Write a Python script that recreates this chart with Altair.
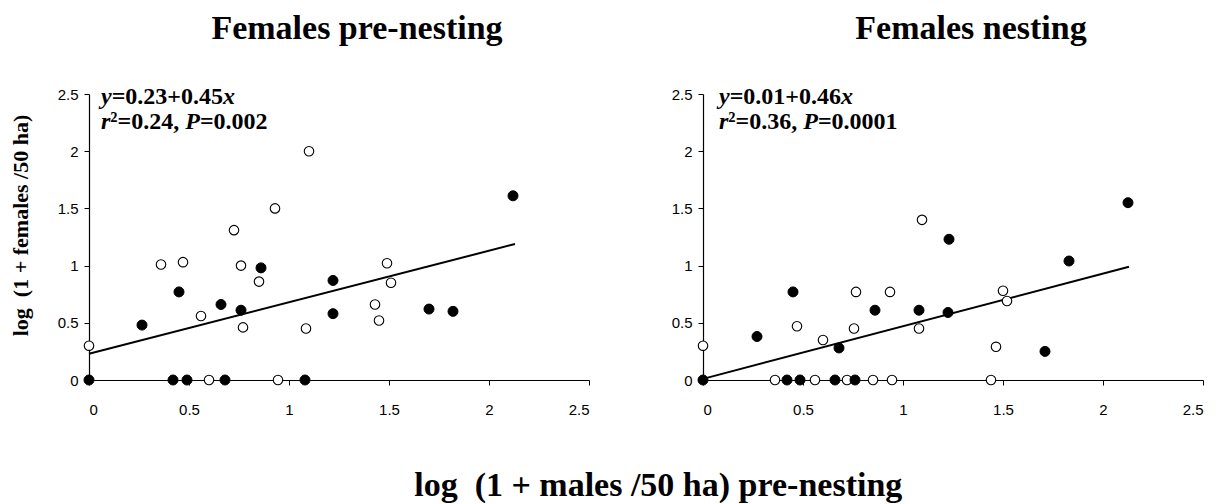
import altair as alt
import pandas as pd

# ---------------- data ----------------
# Panel 1: Females pre-nesting
pre_open_x = [0.00, 0.36, 0.47, 0.56, 0.60, 0.725, 0.76, 0.77, 0.85, 0.93, 0.945, 1.085, 1.10, 1.43, 1.45, 1.49, 1.51]
pre_open_y = [0.30, 1.01, 1.03, 0.56, 0.00, 1.31, 1.00, 0.46, 0.86, 1.50, 0.00, 0.45, 2.00, 0.66, 0.52, 1.02, 0.85]
pre_fill_x = [0.00, 0.265, 0.42, 0.45, 0.49, 0.66, 0.68, 0.76, 0.86, 1.08, 1.22, 1.22, 1.70, 1.82, 2.12]
pre_fill_y = [0.00, 0.48, 0.00, 0.77, 0.00, 0.66, 0.00, 0.61, 0.98, 0.00, 0.87, 0.58, 0.62, 0.60, 1.61]

# Panel 2: Females nesting
nest_open_x = [0.00, 0.36, 0.47, 0.56, 0.60, 0.72, 0.755, 0.765, 0.85, 0.935, 0.945, 1.08, 1.095, 1.44, 1.465, 1.50, 1.52]
nest_open_y = [0.30, 0.00, 0.47, 0.00, 0.35, 0.00, 0.45, 0.77, 0.00, 0.77, 0.00, 0.45, 1.40, 0.00, 0.29, 0.78, 0.69]
nest_fill_x = [0.00, 0.27, 0.42, 0.45, 0.485, 0.66, 0.68, 0.76, 0.86, 1.08, 1.225, 1.23, 1.71, 1.83, 2.125]
nest_fill_y = [0.00, 0.38, 0.00, 0.77, 0.00, 0.00, 0.28, 0.00, 0.61, 0.61, 0.59, 1.23, 0.25, 1.04, 1.55]

panel_titles = ["Females pre-nesting", "Females nesting"]
intercepts = [0.23, 0.01]
slopes = [0.45, 0.46]
fit_x_range = [0.0, 2.13]
eq_numbers = [["0.23", "0.45"], ["0.01", "0.46"]]
stat_numbers = [["0.24", "0.002"], ["0.36", "0.0001"]]

y_title = "log\u00a0 (1 + females /50 ha)"
x_title = "log\u00a0 (1 + males /50 ha) pre-nesting"
tick_values = [0, 0.5, 1, 1.5, 2, 2.5]

SERIF = "Liberation Serif"
SANS = "Liberation Sans"
W, H = 500, 286
ANN_FS = 24

# Times-metric advance widths (em) used to place mixed-style text pieces
BOLD_W = {"=": 0.57, "+": 0.57, ".": 0.25, ",": 0.25, " ": 0.25, "\u00b2": 0.3}
BOLD_W.update({d: 0.5 for d in "0123456789"})
BI_W = {"y": 0.444, "x": 0.5, "r": 0.389, "P": 0.611}


def width(txt, italic):
    table = BI_W if italic else BOLD_W
    return sum(table.get(c, 0.5) for c in txt)


def annotation_layers(i, x0):
    a, b = eq_numbers[i]
    r2, p = stat_numbers[i]
    lines = [
        [("y", True), ("=" + a + "+" + b, False), ("x", True)],
        [("r", True), ("\u00b2=" + r2 + ",", False), (" ", None), ("P", True), ("=" + p, False)],
    ]
    baselines = [10, 35]
    layers = []
    for li, pieces in enumerate(lines):
        off = 0.0
        for txt, ital in pieces:
            if ital is None:
                off += width(txt, False)
                continue
            layers.append(
                alt.Chart(pd.DataFrame({"t": [txt]})).mark_text(
                    font=SERIF, fontSize=ANN_FS, fontWeight="bold",
                    fontStyle="italic" if ital else "normal",
                    align="left", baseline="alphabetic", color="black",
                ).encode(
                    x=alt.value(x0 + off * ANN_FS),
                    y=alt.value(baselines[li]),
                    text="t:N",
                )
            )
            off += width(txt, ital)
    return layers


def panel(i, ox, oy, fx, fy, show_ytitle, ann_x0):
    xs = alt.Scale(domain=[0, 2.5], nice=False, zero=False)
    ys = alt.Scale(domain=[0, 2.5], nice=False, zero=False)
    x_axis = alt.Axis(values=tick_values, format="~g", title=None)
    if show_ytitle:
        y_axis = alt.Axis(values=tick_values, format="~g", title=y_title,
                          titleFont=SERIF, titleFontSize=22, titleFontWeight="bold",
                          titleColor="black", titleAngle=-90, titleAlign="center",
                          titleBaseline="alphabetic", titleX=-62, titleY=131)
    else:
        y_axis = alt.Axis(values=tick_values, format="~g", title=None)

    a, b = intercepts[i], slopes[i]
    fit = pd.DataFrame({"x": fit_x_range, "y": [a + b * v for v in fit_x_range]})
    opn = pd.DataFrame({"x": ox, "y": oy})
    fil = pd.DataFrame({"x": fx, "y": fy})

    line = alt.Chart(fit).mark_line(color="black", strokeWidth=2).encode(
        x=alt.X("x:Q", scale=xs, axis=x_axis),
        y=alt.Y("y:Q", scale=ys, axis=y_axis),
    )
    open_pts = alt.Chart(opn).mark_circle(
        size=90, fill="white", stroke="black", strokeWidth=1.1, opacity=1
    ).encode(x=alt.X("x:Q", scale=xs), y=alt.Y("y:Q", scale=ys))
    fill_pts = alt.Chart(fil).mark_circle(
        size=100, fill="black", stroke="black", strokeWidth=1, opacity=1
    ).encode(x=alt.X("x:Q", scale=xs), y=alt.Y("y:Q", scale=ys))

    layers = [line, open_pts, fill_pts] + annotation_layers(i, ann_x0)
    return alt.layer(*layers).properties(
        width=W, height=H,
        title=alt.TitleParams(panel_titles[i], font=SERIF, fontSize=34, fontWeight="bold",
                              color="black", anchor="middle", frame="group",
                              baseline="top", offset=39, dx=18),
    )


left = panel(0, pre_open_x, pre_open_y, pre_fill_x, pre_fill_y, True, 12)
right = panel(1, nest_open_x, nest_open_y, nest_fill_x, nest_fill_y, False, 16)

chart = alt.hconcat(left, right, spacing=81).properties(
    title=alt.TitleParams(x_title, orient="bottom", anchor="middle", font=SERIF,
                          fontSize=34, fontWeight="bold", color="black",
                          baseline="alphabetic", offset=79, dx=52),
    padding={"left": 0, "top": 4, "right": 0, "bottom": 0},
).configure_view(stroke=None).configure_axis(
    grid=False, domainColor="black", domainWidth=1.2, tickColor="black", tickSize=5,
    labelFont=SANS, labelFontSize=15, labelColor="black",
).configure_axisX(labelPadding=17).configure_axisY(labelPadding=6)

chart.save("out.html", embed_options={"renderer": "svg", "actions": False})
